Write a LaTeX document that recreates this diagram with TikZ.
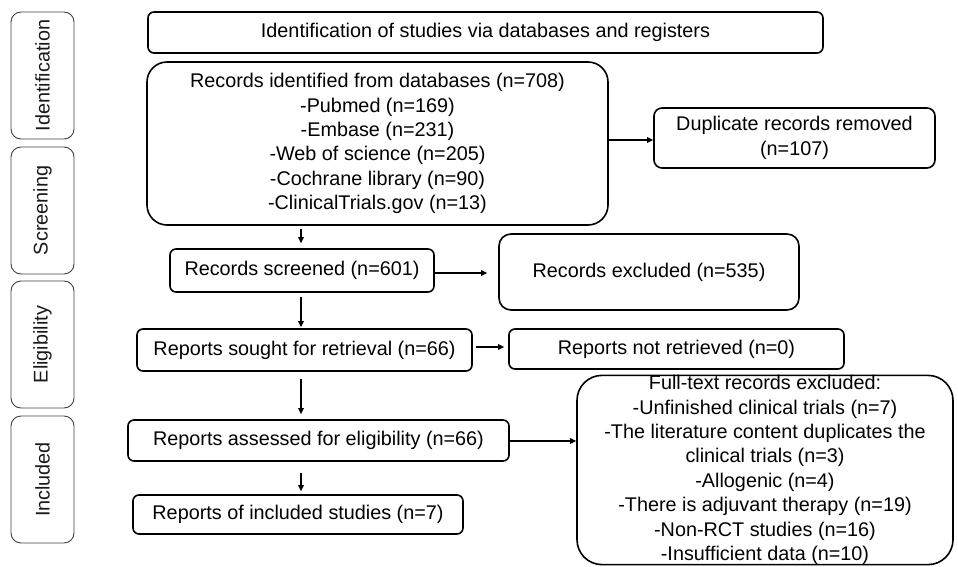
\documentclass[tikz,border=0pt]{standalone}
\usepackage{fontspec}
\setmainfont{Liberation Sans}
\usetikzlibrary{arrows.meta, calc}

\newcommand{\boxfont}{\fontsize{19.8}{24.4}\selectfont}

\begin{document}
\begin{tikzpicture}[x=1pt, y=-1pt, >={Triangle[length=6pt, width=5.5pt]}]%
            \tikzstyle{box}=[draw, line width=1.6pt, rounded corners=6pt, align=center, inner sep=0pt, font=\boxfont];%
            \tikzstyle{phase}=[draw=black!75, line width=0.9pt, rounded corners=10pt, rotate=90, minimum width=127pt, minimum height=63pt, inner sep=0pt, text=black!90, font=\boxfont];%
            \tikzstyle{link}=[line width=1.6pt];%
            \useasboundingbox (0,0) rectangle (958,567);

            % phases on the left
            \node (idf) at (42.5, 75.5) [phase] {Identification};
            \node (scn) at (42.5, 210.5) [phase] {Screening};
            \node (elg) at (42.5, 344.5) [phase] {Eligibility};
            \node (inl) at (42.5, 479.5) [phase] {Included};

            % main column
            \node (title) at (485.5, 32.5) [box, minimum width=675pt, minimum height=41pt] {Identification of studies via databases and registers};
            \node (rec) at (377.5, 143.5) [box, rounded corners=20pt, minimum width=461pt, minimum height=163pt] {Records identified from databases (n=708)\\-Pubmed (n=169)\\-Embase (n=231)\\-Web of science (n=205)\\-Cochrane library (n=90)\\-ClinicalTrials.gov (n=13)};
            \node (scr) at (302, 270.5) [box, minimum width=264pt, minimum height=43pt] {Records screened (n=601)};
            \node (sought) at (304.5, 350) [box, minimum width=335pt, minimum height=42pt] {Reports sought for retrieval (n=66)};
            \node (ass) at (318.5, 440.5) [box, minimum width=381pt, minimum height=41pt] {Reports assessed for eligibility (n=66)};
            \node (inc) at (298, 514.5) [box, minimum width=330pt, minimum height=39pt] {Reports of included studies (n=7)};

            % right column
            \node (dup) at (794.5, 138) [box, rounded corners=8pt, minimum width=281pt, minimum height=60pt] {Duplicate records removed\\(n=107)};
            \node (exc) at (649, 272) [box, rounded corners=12pt, minimum width=300pt, minimum height=76pt] {Records excluded (n=535)};
            \node (notret) at (676.5, 349) [box, minimum width=335pt, minimum height=40pt] {Reports not retrieved (n=0)};
            \node (full) at (765, 470) [box, rounded corners=25pt, minimum width=376pt, minimum height=188pt] {Full-text records excluded:\\-Unfinished clinical trials (n=7)\\-The literature content duplicates the\\clinical trials (n=3)\\-Allogenic (n=4)\\-There is adjuvant therapy (n=19)\\-Non-RCT studies (n=16)\\-Insufficient data (n=10)};

            \coordinate (col) at (301, 0);

            \draw (rec.south -| col) edge[->, link, shorten <=3pt, shorten >=5pt] (scr.north -| col);
            \draw (scr.south -| col) edge[->, link, shorten <=4pt, shorten >=1pt] (sought.north -| col);
            \draw (sought.south -| col) edge[->, link, shorten <=7pt, shorten >=5pt] (ass.north -| col);
            \draw (ass.south -| col) edge[->, link, shorten <=11pt, shorten >=3pt] (inc.north -| col);

            \draw (rec.east |- 0,140) edge[->, link] (dup.west |- 0,140);
            \draw (scr.east |- 0,273) edge[->, link, shorten >=11pt] (exc.west |- 0,273);
            \draw (sought.east |- 0,347) edge[->, link, shorten <=3pt, shorten >=4pt] (notret.west |- 0,347);
            \draw (ass.east |- 0,441) edge[->, link] (full.west |- 0,441);
        \end{tikzpicture}
\end{document}
